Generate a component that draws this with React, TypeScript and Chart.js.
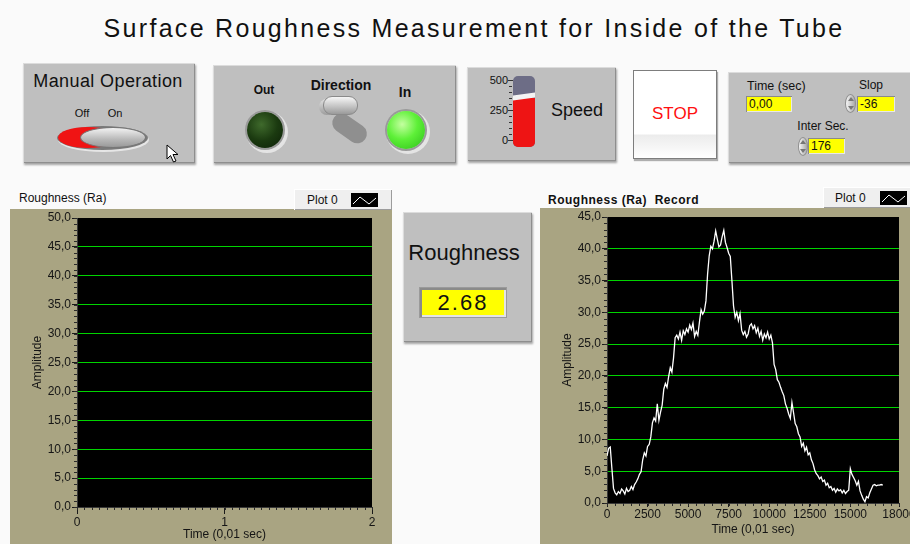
import React, { useEffect, useRef } from "react";
import { Chart, registerables } from "chart.js";

Chart.register(...registerables);

// ---------------- data ----------------
const TITLE = "Surface Roughness Measurement for Inside of the Tube";

const LIVE_Y_TICKS = [0, 5, 10, 15, 20, 25, 30, 35, 40, 45, 50];
const LIVE_X_TICKS = [0, 1, 2];
const LIVE_SERIES: { x: number; y: number }[] = [];

const RECORD_Y_TICKS = [0, 5, 10, 15, 20, 25, 30, 35, 40, 45];
const RECORD_X_TICKS = [0, 2500, 5000, 7500, 10000, 12500, 15000, 18000];
const RECORD_DT = 100; // sample spacing in 0.01 s
const RECORD_RA = [
  7.4, 8.6, 8.8, 5.5, 2.3, 1.6, 1.3, 1.8, 1.5, 2.2,
  1.9, 1.4, 2.3, 1.8, 2.0, 2.6, 2.1, 2.9, 3.3, 3.8,
  4.5, 4.9, 6.8, 7.9, 7.4, 8.9, 9.2, 10.4, 12.6, 13.4,
  12.9, 15.6, 13.0, 14.3, 15.4, 17.9, 18.8, 18.2, 19.9, 21.3,
  20.6, 22.8, 26.0, 26.4, 25.8, 26.9, 25.6, 27.1, 26.5, 27.4,
  26.9, 28.0, 27.3, 28.3, 26.2, 27.0, 26.4, 28.5, 30.4, 29.7,
  30.2, 31.8, 36.0, 38.9, 40.4, 40.0, 41.2, 42.8, 41.5, 40.3,
  40.6, 41.9, 42.9, 41.0, 40.2, 39.3, 38.8, 35.0, 31.0, 29.2,
  30.0, 28.7, 29.8, 27.2, 26.5, 27.0, 26.1, 26.6, 27.9, 28.2,
  27.4, 27.9, 26.8, 27.5, 26.2, 27.0, 25.6, 26.6, 26.0, 26.9,
  25.8, 26.4, 25.2, 21.8, 21.0, 19.4, 19.0, 18.2, 17.5, 16.9,
  15.6, 14.9, 14.0, 13.3, 15.8, 14.2, 12.5, 12.0, 10.9, 10.4,
  8.9, 9.4, 8.2, 8.8, 7.6, 7.9, 6.8, 6.2, 5.2, 4.6,
  4.3, 3.8, 4.1, 3.4, 3.6, 2.8, 3.1, 2.4, 2.6, 2.0,
  2.3, 1.7, 2.2, 1.9, 2.1, 1.6, 2.0, 1.5, 1.8, 2.0,
  5.4, 4.5, 4.0, 3.5, 2.8, 3.4, 1.9, 1.2, 0.6, 0.2,
  1.0, 0.8, 1.6, 2.2, 2.8, 2.9, 2.7, 2.8, 2.8, 2.9,
  2.8,
];

const ROUGHNESS_VALUE = "2.68";
const TIME_VALUE = "0,00";
const SLOP_VALUE = "-36";
const INTER_SEC_VALUE = "176";
const SPEED_VALUE = 350;
const SPEED_TICKS = [500, 250, 0];

// ---------------- styles ----------------
const UI_FONT = "'Liberation Sans', Arial, Helvetica, sans-serif";
const TICK_FAMILY = "'Liberation Sans Narrow', 'Liberation Sans', Arial, sans-serif";
const FRAME = "#a9a482";
const GRID_GREEN = "#00d400";
const PANEL_BG = "#bfbfbf";

const commaFmt = (v: number) => v.toFixed(1).replace(".", ",");

const plotBg = {
  id: "plotBg",
  beforeDraw(chart: any) {
    const { ctx, chartArea } = chart;
    ctx.save();
    ctx.fillStyle = FRAME;
    ctx.fillRect(0, 0, chart.width, chart.height);
    ctx.fillStyle = "#000";
    ctx.fillRect(chartArea.left, chartArea.top, chartArea.right - chartArea.left, chartArea.bottom - chartArea.top);
    ctx.restore();
  },
};

const minorTicks = {
  id: "minorTicks",
  afterDraw(chart: any, _args: any, opts: any) {
    const { ctx, chartArea, scales } = chart;
    ctx.save();
    ctx.strokeStyle = "#2a2a2a";
    ctx.lineWidth = 1;
    const xs = scales.x;
    const nx = Math.round((xs.max - xs.min) / opts.x);
    for (let i = 0; i <= nx; i++) {
      const px = Math.round(xs.getPixelForValue(xs.min + i * opts.x)) + 0.5;
      ctx.beginPath();
      ctx.moveTo(px, chartArea.bottom);
      ctx.lineTo(px, chartArea.bottom + 3);
      ctx.stroke();
    }
    const ys = scales.y;
    const ny = Math.round((ys.max - ys.min) / opts.y);
    for (let i = 0; i <= ny; i++) {
      const py = Math.round(ys.getPixelForValue(ys.min + i * opts.y)) + 0.5;
      ctx.beginPath();
      ctx.moveTo(chartArea.left, py);
      ctx.lineTo(chartArea.left - 3, py);
      ctx.stroke();
    }
    ctx.restore();
  },
};

type GraphCfg = {
  xTicks: number[];
  yTicks: number[];
  xFmt: (v: number) => string;
  data: { x: number; y: number }[];
  xHeight: number;
  padRight: number;
  xTickLen: number;
  xTickPad: number;
  xTitlePad: number;
  minorX: number;
  minorY: number;
};

function buildConfig(c: GraphCfg): any {
  const xMin = c.xTicks[0];
  const xMax = c.xTicks[c.xTicks.length - 1];
  const yMin = c.yTicks[0];
  const yMax = c.yTicks[c.yTicks.length - 1];
  return {
    type: "line",
    data: {
      datasets: [
        {
          label: "Plot 0",
          data: c.data,
          borderColor: "#ffffff",
          borderWidth: 1.3,
          pointRadius: 0,
          tension: 0,
          fill: false,
        },
      ],
    },
    options: {
      responsive: false,
      animation: false,
      devicePixelRatio: 1,
      layout: { padding: { left: 0, top: 9, right: c.padRight, bottom: 0 } },
      plugins: {
        legend: { display: false },
        tooltip: { enabled: false },
        minorTicks: { x: c.minorX, y: c.minorY },
      },
      scales: {
        x: {
          type: "linear",
          min: xMin,
          max: xMax,
          afterBuildTicks: (s: any) => {
            s.ticks = c.xTicks.map((v) => ({ value: v }));
          },
          afterFit: (s: any) => {
            s.height = c.xHeight;
          },
          grid: {
            display: true,
            drawOnChartArea: false,
            drawTicks: true,
            tickLength: c.xTickLen,
            tickColor: "#1a1a1a",
          },
          border: { display: true, color: "#3a3a3a" },
          ticks: {
            color: "#151515",
            font: { family: TICK_FAMILY, size: 12 },
            padding: c.xTickPad,
            maxRotation: 0,
            autoSkip: false,
            callback: (v: any) => c.xFmt(Number(v)),
          },
          title: {
            display: true,
            text: "Time (0,01 sec)",
            color: "#151515",
            font: { family: TICK_FAMILY, size: 12 },
            padding: { top: 0, bottom: c.xTitlePad },
          },
        },
        y: {
          type: "linear",
          min: yMin,
          max: yMax,
          afterBuildTicks: (s: any) => {
            s.ticks = c.yTicks.map((v) => ({ value: v }));
          },
          afterFit: (s: any) => {
            s.width = 67;
          },
          grid: {
            color: (ctx: any) => {
              const v = ctx.tick ? ctx.tick.value : null;
              return v === yMin || v === yMax ? "rgba(0,0,0,0)" : GRID_GREEN;
            },
            lineWidth: 1,
            drawTicks: true,
            tickLength: 5,
            tickColor: "#1a1a1a",
          },
          border: { display: true, color: "#3a3a3a" },
          ticks: {
            color: "#151515",
            font: { family: TICK_FAMILY, size: 12 },
            padding: 1,
            autoSkip: false,
            callback: (v: any) => commaFmt(Number(v)),
          },
          title: {
            display: true,
            text: "Amplitude",
            color: "#151515",
            font: { family: TICK_FAMILY, size: 12 },
            padding: { top: 20, bottom: 0 },
          },
        },
      },
    },
    plugins: [plotBg, minorTicks],
  };
}

function Graph(props: { left: number; top: number; width: number; height: number; cfg: GraphCfg }) {
  const ref = useRef<HTMLCanvasElement | null>(null);
  useEffect(() => {
    if (!ref.current) return;
    const chart = new Chart(ref.current, buildConfig(props.cfg));
    return () => chart.destroy();
  }, []);
  return (
    <canvas
      ref={ref}
      width={props.width}
      height={props.height}
      style={{ position: "absolute", left: props.left, top: props.top, width: props.width, height: props.height }}
    />
  );
}

// ---------------- small UI helpers ----------------
function T(p: {
  x: number;
  y: number;
  size: number;
  bold?: boolean;
  color?: string;
  anchor?: "start" | "middle" | "end";
  ls?: number;
  family?: string;
  children: React.ReactNode;
}) {
  const tx = p.anchor === "start" ? "0" : p.anchor === "end" ? "-100%" : "-50%";
  return (
    <div
      style={{
        position: "absolute",
        left: p.x,
        top: p.y,
        transform: `translate(${tx}, -50%)`,
        fontFamily: p.family || UI_FONT,
        fontSize: p.size,
        fontWeight: p.bold ? 700 : 400,
        color: p.color || "#111",
        letterSpacing: p.ls || 0,
        whiteSpace: "pre",
        lineHeight: 1,
      }}
    >
      {p.children}
    </div>
  );
}

function Panel(p: { l: number; t: number; w: number; h: number; bg?: string; children?: React.ReactNode }) {
  return (
    <div
      style={{
        position: "absolute",
        left: p.l,
        top: p.t,
        width: p.w,
        height: p.h,
        background: p.bg || PANEL_BG,
        boxSizing: "border-box",
        boxShadow:
          "inset 1px 1px 0 #dcdcdc, inset -1px -1px 0 #8e8e8e, 1px 2px 2px rgba(0,0,0,0.35)",
      }}
    >
      {p.children}
    </div>
  );
}

function Box(p: { l: number; t: number; w: number; h: number; style?: any; children?: React.ReactNode }) {
  return (
    <div style={{ position: "absolute", left: p.l, top: p.t, width: p.w, height: p.h, boxSizing: "border-box", ...p.style }}>
      {p.children}
    </div>
  );
}

function Field(p: { l: number; t: number; w: number; h: number; text: string; size?: number }) {
  return (
    <Box
      l={p.l}
      t={p.t}
      w={p.w}
      h={p.h}
      style={{
        background: "#ffff00",
        boxShadow: "inset 1px 1px 0 #8a8a8a, inset -1px -1px 0 #e8e8e8",
        fontFamily: UI_FONT,
        fontSize: p.size || 12,
        color: "#111",
        lineHeight: `${p.h}px`,
        paddingLeft: 3,
        whiteSpace: "nowrap",
      }}
    >
      {p.text}
    </Box>
  );
}

function Spinner(p: { l: number; t: number; w: number; h: number }) {
  return (
    <Box
      l={p.l}
      t={p.t}
      w={p.w}
      h={p.h}
      style={{
        borderRadius: "50%",
        background: "linear-gradient(90deg, #f6f6f6, #a9a9a9)",
        border: "1px solid #909090",
      }}
    >
      <div
        style={{
          position: "absolute",
          left: p.w / 2 - 4,
          top: 2,
          width: 0,
          height: 0,
          borderLeft: "3px solid transparent",
          borderRight: "3px solid transparent",
          borderBottom: "4px solid #777",
        }}
      />
      <div
        style={{
          position: "absolute",
          left: p.w / 2 - 4,
          bottom: 2,
          width: 0,
          height: 0,
          borderLeft: "3px solid transparent",
          borderRight: "3px solid transparent",
          borderTop: "4px solid #777",
        }}
      />
    </Box>
  );
}

function LegendBox(p: { l: number; t: number; w: number; h: number; textX: number; iconX: number; iconY: number }) {
  return (
    <>
      <Box
        l={p.l}
        t={p.t}
        w={p.w}
        h={p.h}
        style={{ background: "#efefef", boxShadow: "inset 1px 1px 0 #ffffff, inset -1px -1px 0 #9c9c9c" }}
      />
      <T x={p.textX} y={p.t + p.h / 2} size={12} anchor="start" family={TICK_FAMILY}>
        Plot 0
      </T>
      <svg
        width={27}
        height={14}
        style={{ position: "absolute", left: p.iconX, top: p.iconY }}
      >
        <rect x={0} y={0} width={27} height={14} fill="#000" />
        <polyline points="2,11 9,4 18,11 25,5" fill="none" stroke="#fff" strokeWidth={1} />
      </svg>
    </>
  );
}

// ---------------- app ----------------
export default function App() {
  const speedTop = 80;
  const speedBottom = 140;
  const speedY = speedTop + ((500 - SPEED_VALUE) / 500) * (speedBottom - speedTop);

  const liveCfg: GraphCfg = {
    xTicks: LIVE_X_TICKS,
    yTicks: LIVE_Y_TICKS,
    xFmt: (v) => String(v),
    data: LIVE_SERIES,
    xHeight: 37,
    padRight: 20,
    xTickLen: 7,
    xTickPad: 1,
    xTitlePad: 2,
    minorX: 0.05,
    minorY: 1,
  };
  const recordCfg: GraphCfg = {
    xTicks: RECORD_X_TICKS,
    yTicks: RECORD_Y_TICKS,
    xFmt: (v) => String(v),
    data: RECORD_RA.map((y, i) => ({ x: i * RECORD_DT, y })),
    xHeight: 41,
    padRight: 31,
    xTickLen: 4,
    xTickPad: 0,
    xTitlePad: 7,
    minorX: 500,
    minorY: 1,
  };

  return (
    <div
      style={{
        position: "absolute",
        left: 0,
        top: 0,
        width: 910,
        height: 544,
        overflow: "hidden",
        background: "#fafafa",
        fontFamily: UI_FONT,
      }}
    >
      {/* title */}
      <T x={474} y={28} size={25} ls={2.3}>
        {TITLE}
      </T>

      {/* Manual Operation */}
      <Panel l={23} t={63} w={172} h={100} />
      <T x={108} y={81} size={18} ls={0.4}>
        Manual Operation
      </T>
      <T x={82} y={113} size={11}>
        Off
      </T>
      <T x={115} y={113} size={11}>
        On
      </T>
      <Box l={57} t={126} w={91} h={24} style={{ borderRadius: "50%", background: "#7a7a7a", boxShadow: "1px 2px 0 #e6e6e6" }} />
      <Box l={58} t={127} w={60} h={21} style={{ borderRadius: "50%", background: "#f01414" }} />
      <Box
        l={80}
        t={127}
        w={66}
        h={21}
        style={{ borderRadius: "50%", background: "linear-gradient(180deg, #f2f2f2, #b8b8b8 60%, #9a9a9a)", border: "1px solid #777" }}
      />
      <svg width={14} height={20} style={{ position: "absolute", left: 166, top: 144 }}>
        <polygon points="1,1 1,15 4.5,11.5 7.5,18 10,17 7,10.5 12,10.5" fill="#fff" stroke="#000" strokeWidth={1} />
      </svg>

      {/* Direction */}
      <Panel l={213} t={65} w={243} h={98} />
      <T x={264} y={90} size={12} bold>
        Out
      </T>
      <T x={341} y={85} size={14} bold>
        Direction
      </T>
      <T x={405} y={92} size={14} bold>
        In
      </T>
      <Box
        l={247}
        t={112}
        w={36}
        h={36}
        style={{
          borderRadius: "50%",
          background: "radial-gradient(circle at 40% 35%, #3f6a2c, #1b3a10 50%, #0c1f07)",
          boxShadow: "0 0 0 2px #9a9a9a, 2px 2px 0 3px #e4e4e4",
        }}
      />
      <Box
        l={387}
        t={111}
        w={38}
        h={38}
        style={{
          borderRadius: "50%",
          background: "radial-gradient(circle at 40% 35%, #c4ffa0, #5ef038 45%, #2cbf18)",
          boxShadow: "0 0 0 2px #9a9a9a, 2px 2px 0 3px #e4e4e4",
        }}
      />
      <Box
        l={334}
        t={108}
        w={38}
        h={19}
        style={{ borderRadius: 10, background: "#8f8f8f", transform: "rotate(35deg)", transformOrigin: "0 50%" }}
      />
      <Box
        l={319}
        t={99}
        w={16}
        h={16}
        style={{ borderRadius: "50%", background: "linear-gradient(#e0e0e0, #9c9c9c)" }}
      />
      <Box
        l={323}
        t={96}
        w={35}
        h={19}
        style={{ borderRadius: 9, background: "linear-gradient(180deg, #f6f6f6, #c4c4c4 55%, #9a9a9a)", border: "1px solid #8a8a8a" }}
      />

      {/* Speed */}
      <Panel l={467} t={67} w={149} h={94} />
      {SPEED_TICKS.map((v) => {
        const y = speedTop + ((500 - v) / 500) * (speedBottom - speedTop);
        return (
          <T key={v} x={508} y={y} size={11} anchor="end" family={TICK_FAMILY}>
            {String(v)}
          </T>
        );
      })}
      {[0, 1, 2, 3, 4, 5, 6, 7, 8, 9, 10].map((k) => (
        <Box
          key={k}
          l={k % 5 === 0 ? 508 : 509}
          t={speedTop + k * 6}
          w={k % 5 === 0 ? 5 : 3}
          h={1}
          style={{ background: "#333" }}
        />
      ))}
      <Box l={513} t={76} w={22} h={71} style={{ borderRadius: 5, background: "#6d6d86", overflow: "hidden" }}>
        <div style={{ position: "absolute", left: 0, top: speedY - 76, width: 22, height: 147 - speedY, background: "#ee1414" }} />
        <div
          style={{
            position: "absolute",
            left: 0,
            top: speedY - 76 - 4,
            width: 22,
            height: 5,
            background: "#f4f4f4",
            transform: "skewY(-8deg)",
          }}
        />
      </Box>
      <T x={577} y={110} size={18}>
        Speed
      </T>

      {/* STOP */}
      <Box
        l={633}
        t={70}
        w={84}
        h={89}
        style={{
          background: "linear-gradient(180deg, #ffffff 0%, #ffffff 72%, #ececec 74%, #ffffff 100%)",
          border: "1px solid #7d7d7d",
          boxShadow: "1px 2px 1px rgba(0,0,0,0.3)",
        }}
      />
      <T x={675} y={113} size={17} color="#ff1010">
        STOP
      </T>

      {/* Time / Slop / Inter Sec */}
      <Panel l={728} t={72} w={190} h={91} />
      <T x={747} y={86} size={12.5} anchor="start">
        Time (sec)
      </T>
      <Field l={746} t={96} w={46} h={16} text={TIME_VALUE} />
      <T x={871} y={85} size={12}>
        Slop
      </T>
      <Spinner l={845} t={94} w={11} h={19} />
      <Field l={857} t={96} w={38} h={16} text={SLOP_VALUE} />
      <T x={823} y={126} size={12}>
        Inter Sec.
      </T>
      <Spinner l={798} t={137} w={10} h={19} />
      <Field l={808} t={138} w={37} h={16} text={INTER_SEC_VALUE} />

      {/* Roughness indicator */}
      <Panel l={403} t={212} w={129} h={130} />
      <T x={464} y={253} size={22}>
        Roughness
      </T>
      <Box
        l={419}
        t={287}
        w={88}
        h={31}
        style={{ background: "#ffff00", boxShadow: "inset 2px 2px 0 #8a8a8a, inset -2px -2px 0 #e4e4e4", border: "1px solid #9a9a9a" }}
      />
      <T x={463} y={303} size={22} ls={2}>
        {ROUGHNESS_VALUE}
      </T>

      {/* left graph */}
      <T x={19} y={198} size={12} anchor="start">
        Roughness (Ra)
      </T>
      <Graph left={10} top={209} width={382} height={335} cfg={liveCfg} />
      <LegendBox l={294} t={189} w={98} h={21} textX={307} iconX={351} iconY={193} />

      {/* right graph */}
      <T x={548} y={200} size={12} bold ls={0.5} anchor="start">
        {"Roughness (Ra)  Record"}
      </T>
      <Graph left={540} top={208} width={390} height={336} cfg={recordCfg} />
      <LegendBox l={823} t={187} w={95} h={21} textX={835} iconX={880} iconY={191} />
    </div>
  );
}
